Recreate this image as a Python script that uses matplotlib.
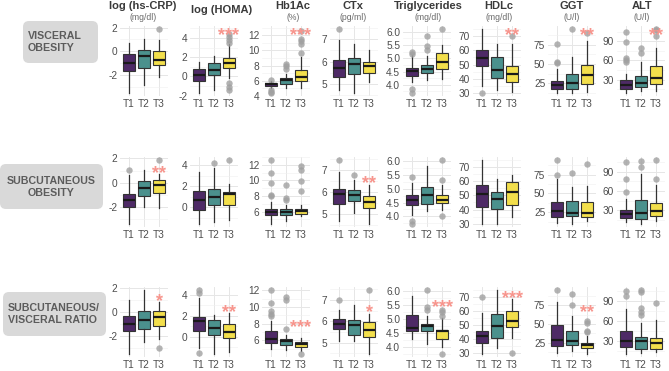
import matplotlib
matplotlib.use("Agg")
import matplotlib.pyplot as plt
from matplotlib.patches import FancyBboxPatch
from matplotlib.ticker import MultipleLocator, FormatStrFormatter

plt.rcParams['font.family'] = ['Liberation Sans', 'DejaVu Sans']

# box stats per tertile: (whislo, q1, median, q3, whishi, [outliers])
tiers = ["T1", "T2", "T3"]
titles = ["log (hs-CRP)", "log (HOMA)", "Hb1Ac", "CTx", "Triglycerides", "HDLc", "GGT", "ALT"]
units = ["(mg/dl)", "", "(%)", "(pg/ml)", "(mg/dl)", "(mg/dl)", "(U/l)", "(U/l)"]
row_labels = ["VISCERAL\nOBESITY", "SUBCUTANEOUS\nOBESITY", "SUBCUTANEOUS/\nVISCERAL RATIO"]

# visceral obesity
vis_crp = [(-3.47, -1.67, -0.97, -0.2, 0.7, []), (-2.78, -1.39, -0.42, 0.08, 1.03, []),
           (-2.17, -1.14, -0.7, 0.05, 0.97, [1.86])]
vis_homa = [(-1.7, -0.48, 0.1, 0.8, 1.5, []), (-1.44, 0.1, 0.7, 1.37, 2.08, []),
            (-0.16, 0.9, 1.44, 1.92, 3.35, [4.38, 4.06, 3.74, 3.5, -0.64, -1.05, -1.37])]
vis_hba1c = [(5.0, 5.25, 5.5, 5.75, 5.9, [6.1, 4.75, 4.55, 4.4]), (5.0, 5.6, 6.05, 6.3, 6.9, [8.25, 7.95, 7.6]),
             (5.0, 5.9, 6.5, 7.4, 9.1, [12.5, 11.5, 11.2, 10.8, 9.7])]
vis_ctx = [(4.73, 5.33, 5.7, 6.07, 6.97, [7.45]), (4.6, 5.45, 5.88, 6.18, 6.8, []),
           (5.1, 5.5, 5.78, 6.0, 6.52, [])]
vis_tg = [(4.1, 4.33, 4.51, 4.64, 5.14, [5.24, 5.17, 3.83, 3.7]), (4.2, 4.45, 4.61, 4.76, 5.08, [5.86, 5.45, 5.33]),
          (4.24, 4.58, 4.85, 5.2, 5.51, [6.1])]
vis_hdl = [(34.5, 49.0, 54.3, 60.2, 75, [30]), (32, 40.7, 46.4, 55, 64.5, []),
           (30.5, 37.6, 43.6, 48.8, 64.5, [70.2])]
vis_ggt = [(12.7, 17.3, 22.7, 28.6, 43, [76, 52, 51]), (12.7, 17.3, 25, 37, 59, [95]),
           (13.6, 23.6, 35.5, 49, 79.5, [90])]
vis_alt = [(9.2, 15.4, 22.2, 30, 39.4, [104.5, 88.3, 64, 60, 57]), (11.8, 18.5, 24.8, 36.3, 57, [79.5, 71.7]),
           (12.8, 23.7, 32.6, 50.8, 79.5, [109, 107, 98.8])]

# subcutaneous obesity
sub_crp = [(-3.39, -2.01, -1.46, -0.91, 0.66, [1.08]), (-2.01, -1.1, -0.44, 0.11, 1.08, []),
           (-2.1, -0.86, -0.22, 0.25, 0.74, [1.85])]
sub_homa = [(-1.58, -0.22, 0.73, 1.58, 3.31, []), (-1.42, 0.22, 1.0, 1.74, 3.69, [4.2]),
            (-1.2, 0.22, 1.29, 1.48, 2.2, [4.48])]
sub_hba1c = [(4.43, 5.53, 5.96, 6.34, 7.23, [12.6, 10.9, 9.66, 8.17, 7.96]),
             (4.77, 5.62, 5.96, 6.34, 6.9, [9.36, 7.74, 7.53]),
             (5.4, 5.7, 6.04, 6.34, 6.9, [11.8, 11.4, 9.9, 8.6])]
sub_ctx = [(4.68, 5.47, 5.92, 6.15, 6.93, [7.46]), (5.02, 5.58, 5.85, 6.08, 6.53, [6.8]),
           (4.54, 5.25, 5.52, 5.82, 6.33, [])]
sub_tg = [(4.06, 4.4, 4.58, 4.76, 5.22, [5.43, 3.85, 3.73]), (4.18, 4.46, 4.79, 5.07, 5.83, []),
          (4.22, 4.48, 4.58, 4.76, 5.13, [6.04, 5.31, 4.01])]
sub_hdl = [(30, 41.8, 50.7, 57, 74.7, []), (30, 40.6, 47.2, 52.4, 61.8, []),
           (34.7, 42.9, 52.4, 59.4, 64.1, [])]
sub_ggt = [(11, 18.4, 26.3, 39.2, 69, [94.5, 74.5]), (9.5, 19.7, 24.1, 40.5, 58.2, [78]),
           (12.6, 18.4, 24.1, 39.2, 60.4, [89])]
sub_alt = [(11.8, 18, 24.8, 31, 47.2, [104.5, 79.5, 58.6]), (9.2, 17, 26.4, 46.7, 87.3, [106.7, 97.9]),
           (13.3, 21.2, 29, 41.5, 69, [108, 79.5])]

# subcutaneous / visceral ratio
rat_crp = [(-3.45, -1.6, -0.97, -0.3, 0.97, []), (-2.51, -1.41, -0.63, 0.06, 1.79, []),
           (-2.2, -1.19, -0.41, 0.11, 0.8, [-2.98])]
rat_homa = [(-1.11, 0.57, 1.52, 1.9, 3.65, [4.44, 4.19, -1.59]), (-1.65, 0.16, 0.79, 1.59, 2.06, []),
            (-1.43, -0.16, 0.48, 1.21, 2.22, [])]
rat_hba1c = [(4.96, 5.68, 6.16, 7.08, 8.28, [12, 10.48, 9.48, 9.2, 8.96]),
             (4.8, 5.48, 5.88, 6.16, 6.68, [11.2, 10.8, 7.36]),
             (4.68, 5.2, 5.56, 5.76, 6.28, [4.4])]
rat_ctx = [(5.08, 5.65, 5.88, 6.1, 6.53, [6.98]), (5.08, 5.38, 5.83, 6.06, 6.78, []),
           (4.48, 5.28, 5.61, 5.98, 6.33, [7.46])]
rat_tg = [(4.29, 4.56, 4.68, 5.16, 5.82, []), (4.11, 4.56, 4.74, 4.84, 5.1, [6.04, 5.44, 5.34]),
          (4.02, 4.29, 4.56, 4.62, 5.04, [5.34, 5.25, 5.13, 3.76])]
rat_hdl = [(29.5, 37.1, 42.6, 46.2, 58.6, [70]), (33.8, 41, 49.5, 58.1, 75.2, []),
           (41, 49, 52.9, 60, 68.8, [30])]
rat_ggt = [(11.4, 20.5, 28.2, 49, 79.5, [95.5]), (13.6, 21.8, 27.3, 41, 61.4, [91, 75]),
           (10, 17.3, 21.8, 25, 34, [53.6, 51, 41, 39.5])]
rat_alt = [(10.2, 20.6, 29, 45.6, 77.9, [105.5, 97.7]), (11.8, 17, 29, 36.2, 57, [107, 104, 79.5, 74.3, 69]),
           (12.8, 17, 26.4, 34.2, 61.2, [87.3])]

# significance stars (label, y) for T3
vis_sig = ["", "***", "***", "", "", "**", "**", "**"]
vis_sig_y = [0, 4.9, 12.8, 0, 0, 74.5, 94, 109]
sub_sig = ["**", "", "", "**", "", "", "", ""]
sub_sig_y = [1.2, 0, 0, 6.68, 0, 0, 0, 0]
rat_sig = ["*", "**", "***", "*", "***", "***", "**", ""]
rat_sig_y = [1.35, 2.86, 8.28, 6.71, 5.64, 73.6, 72.7, 0]

y_breaks = [2, 2, 2, 1, 0.5, 10, 25, 30]

rows = [[vis_crp, vis_homa, vis_hba1c, vis_ctx, vis_tg, vis_hdl, vis_ggt, vis_alt],
        [sub_crp, sub_homa, sub_hba1c, sub_ctx, sub_tg, sub_hdl, sub_ggt, sub_alt],
        [rat_crp, rat_homa, rat_hba1c, rat_ctx, rat_tg, rat_hdl, rat_ggt, rat_alt]]
sigs = [(vis_sig, vis_sig_y), (sub_sig, sub_sig_y), (rat_sig, rat_sig_y)]

colors = ["#4e2a66", "#4b918d", "#f3df4c"]

W, H = 669, 371
fig = plt.figure(figsize=(W / 100, H / 100), dpi=100)

# background layer in pixel coords for labels / titles
bg = fig.add_axes([0, 0, 1, 1])
bg.set_xlim(0, W)
bg.set_ylim(H, 0)
bg.axis("off")

col_left = [120, 190, 262, 330, 403, 473, 548, 617]
col_w = 48
row_top = [26, 157, 287]
row_h = 70
title_x = [143, 222, 293, 353, 428, 499, 572, 642]

# row label boxes
box_pos = [(23, 21, 75, 42, "left"), (0, 164, 103, 45, "center"), (3, 292, 103, 44, "left")]
for lab, (bx, by, bw, bh, ha) in zip(row_labels, box_pos):
    bg.add_patch(FancyBboxPatch((bx, by), bw, bh, boxstyle="round,pad=0,rounding_size=6",
                                facecolor="#d9d9d9", edgecolor="none"))
    tx = bx + 5 if ha == "left" else bx + bw / 2
    bg.text(tx, by + bh / 2, lab, ha=ha, va="center", multialignment=ha,
            fontsize=7.7, fontweight="bold", color="#5c5c5c", linespacing=1.25)

# column titles
for j in range(8):
    if units[j]:
        bg.text(title_x[j], 6, titles[j], ha="center", va="center", fontsize=8,
                fontweight="bold", color="#3a3a3a")
        bg.text(title_x[j], 17, units[j], ha="center", va="center", fontsize=6.2, color="#6a6a6a")
    else:
        bg.text(title_x[j], 10, titles[j], ha="center", va="center", fontsize=8,
                fontweight="bold", color="#3a3a3a")

for i, row in enumerate(rows):
    labels, sig_y = sigs[i]
    for j, boxes in enumerate(row):
        ax = fig.add_axes([col_left[j] / W, 1 - (row_top[i] + row_h) / H, col_w / W, row_h / H])
        ax.patch.set_alpha(0)
        stats = [dict(whislo=b[0], q1=b[1], med=b[2], q3=b[3], whishi=b[4], fliers=b[5]) for b in boxes]
        res = ax.bxp(stats, positions=[1, 2, 3], widths=0.75, patch_artist=True, showcaps=False,
                     boxprops=dict(edgecolor="#333333", linewidth=0.8),
                     medianprops=dict(color="#1a1a1a", linewidth=1.6),
                     whiskerprops=dict(color="#333333", linewidth=0.9),
                     flierprops=dict(marker="o", markerfacecolor="#a0a0a0", markeredgecolor="none",
                                     markersize=4.6, alpha=0.8))
        for patch, c in zip(res["boxes"], colors):
            patch.set_facecolor(c)

        vals = []
        for b in boxes:
            vals += [b[0], b[4]] + list(b[5])
        if labels[j]:
            vals.append(sig_y[j])
            ax.annotate(labels[j], (3, sig_y[j]), xytext=(0, -7.5), textcoords="offset points",
                        ha="center", va="baseline", fontsize=13, fontweight="bold", color="#f7958d")
        lo, hi = min(vals), max(vals)
        pad = (hi - lo) * 0.05
        ax.set_ylim(lo - pad, hi + pad)
        ax.set_xlim(0.4, 3.6)

        ax.yaxis.set_major_locator(MultipleLocator(y_breaks[j]))
        ax.yaxis.set_minor_locator(MultipleLocator(y_breaks[j] / 2))
        if j == 4:
            ax.yaxis.set_major_formatter(FormatStrFormatter("%.1f"))
        else:
            ax.yaxis.set_major_formatter(FormatStrFormatter("%g"))
        ax.set_xticks([1, 2, 3])
        ax.set_xticklabels(tiers)
        ax.grid(which="major", color="#e6e6e6", linewidth=0.7)
        ax.grid(which="minor", axis="y", color="#f0f0f0", linewidth=0.4)
        ax.set_axisbelow(True)
        for s in ax.spines.values():
            s.set_visible(False)
        ax.tick_params(which="both", length=0, labelsize=7.3, labelcolor="#4d4d4d", pad=2)

fig.savefig("out.png", dpi=100)
